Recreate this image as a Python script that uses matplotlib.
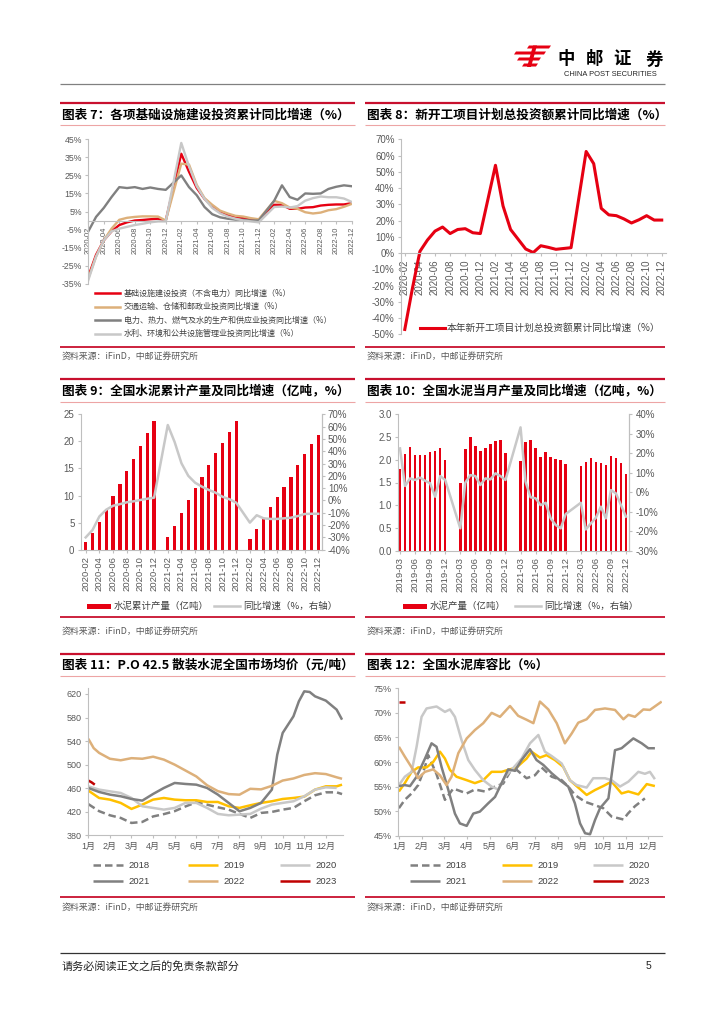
import matplotlib
matplotlib.use('Agg')
import matplotlib.pyplot as plt
from matplotlib.lines import Line2D
from matplotlib.patches import Polygon, Rectangle

W, H = 724, 1024
CJK = ['Noto Sans CJK SC', 'DejaVu Sans']
NUM = ['Liberation Sans', 'Noto Sans CJK SC', 'DejaVu Sans']
plt.rcParams['font.family'] = NUM
plt.rcParams['axes.unicode_minus'] = False

RED = '#E60012'
DARK_RED = '#C00000'
TAN = '#DDB07A'
GOLD = '#FFC000'
LGRAY = '#C8C8C8'
DGRAY = '#808080'
AXC = '#BFBFBF'
TXT = '#595959'

# ---------------- 图表7: 基建投资累计同比 (%), 2020-02 .. 2022-12, 1月无数据
m7 = [f'{y}-{m:02d}' for y in (2020, 2021, 2022) for m in range(1, 13)][1:]
s7_infra = [-31, -19, -11, -6, -2.5, -1, 0, 0.3, 0.7, 1, 0, None,
            37, 27, 18, 12, 8, 5, 3, 2, 1.3, 0.6, 0.2, None,
            8.7, 8.7, 6.5, 6.5, 7.2, 7.4, 8.3, 8.7, 8.9, 8.9, 9.6]
s7_transport = [-32, -20, -11, -4.5, 0.4, 1.5, 2, 2.3, 2.3, 2.2, 0, None,
                31.5, 31, 19.7, 12.4, 8.7, 5.5, 3.9, 2.6, 2.2, 1.3, 0.7, None,
                10.9, 9.6, 7.2, 6.5, 4.6, 3.9, 4.4, 5.7, 6.3, 7.6, 9.2]
s7_power = [-6, 2, 7, 13, 18.5, 18, 18.5, 17.5, 18.3, 17.5, 17, None,
            25, 18.5, 14, 7.5, 3.5, 1.8, 1, 0.5, 0.4, 0, 0, None,
            11, 19.5, 13, 11.5, 15, 14.8, 15, 17.5, 18.7, 19.5, 19]
s7_water = [-33, -20, -11, -6, -4.5, -3.5, -2.5, -1.8, -1, -0.5, -0.5, None,
            43, 30, 19, 12, 7, 4, 2.2, 1, 0, -0.5, -1, None,
            7.5, 7.7, 7.2, 8, 11, 12.4, 13.3, 12.9, 12.9, 12.2, 10.3]
leg7 = ['基础设施建设投资（不含电力）同比增速（%）',
        '交通运输、仓储和邮政业投资同比增速（%）',
        '电力、热力、燃气及水的生产和供应业投资同比增速（%）',
        '水利、环境和公共设施管理业投资同比增速（%）']

# ---------------- 图表8: 新开工项目计划总投资额累计同比 (%)
s8_new = [-47, -22, 1, 8, 13.5, 16, 12, 14.5, 15, 12.5, 12, None,
          54, 29, 14.5, 8.5, 2.5, 0.3, 4.5, 3.5, 2.3, 2.8, 3.3, None,
          62.5, 55, 27.5, 23.5, 23, 21, 18.5, 20.5, 23, 20.3, 20.3]

# ---------------- 图表9: 水泥累计产量 (亿吨) 及累计同比 (%)
s9_prod = [1.5, 3.0, 5.2, 7.6, 10.0, 12.2, 14.5, 16.8, 19.2, 21.6, 23.8, None,
           2.4, 4.4, 6.8, 9.2, 11.4, 13.5, 15.7, 17.8, 19.7, 21.7, 23.7, None,
           2.0, 3.9, 5.6, 7.8, 9.8, 11.6, 13.5, 15.6, 17.6, 19.5, 21.2]
s9_yoy = [-30, -24, -13, -7.5, -4.3, -3, -1.5, -0.7, 0.4, 1.4, 2.3, None,
          61.3, 47.5, 30.2, 20, 14.4, 11.2, 8.5, 6.3, 3, 1, -1.8, None,
          -18, -12, -14.5, -15, -15, -14.5, -14, -12.7, -11, -10.8, -10.8]

# ---------------- 图表10: 水泥当月产量 (亿吨) 及同比 (%), 2019-03 .. 2022-12
m10 = [f'{y}-{m:02d}' for y in (2019, 2020, 2021, 2022) for m in range(1, 13)][2:]
s10_prod = [1.80, 2.13, 2.27, 2.11, 2.11, 2.11, 2.18, 2.19, 2.26, 2.00, None, None,
            1.49, 2.24, 2.49, 2.30, 2.19, 2.26, 2.35, 2.41, 2.44, 2.14, None, None,
            1.97, 2.40, 2.44, 2.25, 2.06, 2.16, 2.05, 2.02, 2.00, 1.91, None, None,
            1.86, 1.95, 2.03, 1.96, 1.93, 1.89, 2.09, 2.04, 1.93, 1.69]
s10_yoy = [22.5, 3.2, 7.1, 6.3, 7.5, 5.9, 4.6, -2.3, 8.3, 6.3, None, None,
           -18.5, 4.9, 8.8, 8.3, 3.7, 7.1, 6.6, 9.7, 8.3, 6.3, None, None,
           33.3, 5.4, -2.6, -3.1, -6.6, -5.4, -13.4, -16.8, -18.5, -11.2, None, None,
           -5.4, -19.1, -16, -13.1, -7.4, -13.4, 1.1, -0.6, -6.6, -12.5]

# ---------------- 图表11: P.O 42.5 散装水泥全国均价 (元/吨), x = 月份位置 (0 = 1月)
month_labels = [f'{i}月' for i in range(1, 13)]
x11 = [0, 0.5, 1, 1.5, 2, 2.5, 3, 3.5, 4, 4.5, 5, 5.5, 6, 6.5, 7, 7.5, 8, 8.5,
       9, 9.5, 10, 10.5, 11, 11.5, 11.75]
p2018 = [433, 421, 414, 409.5, 401, 402.7, 412, 416, 421, 429, 436, 432, 427.6,
         423.6, 416.3, 409.5, 418, 419.7, 423.6, 426.5, 437.8, 448, 453, 453, 450]
p2019 = [456, 443.4, 440.6, 435, 424.8, 432.1, 440.6, 443.4, 440.6, 439.5, 439.5,
         436.6, 436.6, 429.3, 426.5, 431, 435, 437.8, 441.7, 443.4, 445.7, 457.6,
         463.2, 463.2, 466]
p2020 = [463.2, 457.6, 454.7, 451.9, 443.4, 429.3, 426.5, 423.6, 426.5, 435, 435,
         426.5, 416.3, 414, 415.1, 416.3, 425.3, 432.1, 435, 437.8, 446.3, 457.6,
         461.5, 460.4]
x2021 = [0, 0.5, 1, 1.5, 2, 2.5, 3, 3.5, 4, 4.5, 5, 5.5, 6, 6.5, 7, 7.5, 8, 8.5,
         8.75, 9, 9.5, 9.75, 10, 10.25, 10.5, 11, 11.5, 11.75]
p2021 = [460.4, 453.6, 449.1, 446.3, 441.7, 438.9, 450.2, 460.4, 468.9, 467.2, 466,
         460.4, 449.1, 435, 420.8, 426.5, 435, 457.6, 517, 553.8, 582.1, 607.5,
         624.5, 623.4, 616, 608.7, 593.4, 576.4]
x2022 = [0, 0.25, 0.5, 1, 1.5, 2, 2.5, 3, 3.5, 4, 4.5, 5, 5.5, 6, 6.5, 7, 7.5, 8,
         8.5, 9, 9.5, 10, 10.5, 11, 11.5, 11.75]
p2022 = [544, 528, 520, 510, 507.4, 511, 510, 513.5, 508.5, 500, 490, 480, 465,
         455, 450, 449, 459, 458, 464, 473, 476.5, 482.5, 485.5, 484, 478.5, 476]
x2023 = [0, 0.15, 0.3]
p2023 = [473, 470, 466]

# ---------------- 图表12: 全国水泥库容比 (%)
k2018_x = [0, 0.26, 0.56, 0.85, 1.15, 1.29, 1.66, 2.03, 2.4, 2.99, 3.35, 3.79, 4.24,
           4.6, 4.9, 5.19, 5.63, 6.0, 6.29, 6.74, 7.18, 7.47, 7.76, 8.21, 8.65,
           9.01, 9.38, 9.9, 10.1, 10.41, 10.85]
k2018 = [50.6, 52.3, 53.6, 55.3, 59, 61.4, 57.5, 52.3, 54.6, 53.6, 54.4, 54, 55,
         55.6, 58, 58.4, 56.7, 57.3, 58.9, 57, 56.3, 55, 53.3, 51.9, 51.2, 50.6,
         48.9, 48.3, 49.5, 51, 52.6]
k2019_x = [0, 0.26, 0.56, 0.85, 1.22, 1.51, 1.81, 2.03, 2.25, 2.54, 2.99, 3.35, 3.72,
           4.09, 4.53, 4.82, 5.19, 5.63, 5.85, 6.22, 6.51, 6.88, 7.25, 7.54, 7.91,
           8.28, 8.65, 9.01, 9.38, 9.82, 10.12, 10.56, 10.93, 11.29]
k2019 = [54, 55.7, 58, 58.9, 58.9, 60, 62.1, 60.7, 58.4, 57, 56.3, 55.7, 56.3, 58,
         58, 58.4, 58.9, 60.7, 62.1, 60.9, 61.4, 60.4, 59, 56.3, 54.8, 53.3, 54.3,
         55.1, 56, 53.6, 54, 53.4, 55.5, 55.1]
k2020_x = [0, 0.26, 0.56, 0.78, 1.0, 1.22, 1.66, 2.03, 2.25, 2.47, 2.76, 3.06, 3.35,
           3.72, 4.09, 4.38, 4.68, 4.97, 5.41, 5.78, 6.15, 6.44, 6.74, 7.18, 7.54,
           7.84, 8.28, 8.57, 9.09, 9.38, 9.75, 10.12, 10.56, 10.85, 11.07, 11.29]
k2020 = [55.3, 57, 58, 63.1, 69.2, 70.9, 71.3, 70.2, 70.7, 69.2, 64.5, 60.4, 58.4,
         56.3, 55, 54.4, 57, 58.4, 60.7, 63.8, 65.5, 62.1, 61.2, 59.7, 56.3, 55.3,
         54.8, 56.7, 56.7, 56.3, 55, 56, 58, 57.6, 58, 56.5]
k2021_x = [0, 0.26, 0.49, 0.78, 1.15, 1.44, 1.66, 1.88, 2.18, 2.47, 2.69, 2.99, 3.28,
           3.57, 3.94, 4.24, 4.53, 4.82, 5.12, 5.41, 5.78, 6.07, 6.37, 6.74, 7.1,
           7.47, 7.76, 7.99, 8.21, 8.43, 8.65, 8.87, 9.24, 9.53, 9.82, 10.34, 10.71,
           11.0, 11.29]
k2021 = [55.1, 55.3, 55.1, 57, 60.7, 63.8, 63.1, 59, 54.3, 49.5, 47.5, 47, 49.5,
         49.9, 51.6, 52.9, 55.7, 58.5, 58.2, 60.4, 62.6, 60.4, 59.4, 57.7, 56.3, 55,
         51.6, 47.5, 45.5, 45.3, 48.2, 50.6, 52.6, 62.4, 62.8, 64.8, 63.8, 62.8, 62.8]
k2022_x = [0, 0.26, 0.63, 0.85, 1.15, 1.51, 1.81, 2.1, 2.32, 2.62, 2.99, 3.35, 3.72,
           4.09, 4.46, 4.9, 5.26, 5.63, 5.93, 6.22, 6.59, 6.96, 7.32, 7.62, 7.91,
           8.28, 8.65, 9.09, 9.53, 9.9, 10.12, 10.41, 10.78, 11.07, 11.59]
k2022 = [63.1, 61.1, 58.4, 56.7, 58, 58.5, 57.3, 55.3, 57, 61.8, 64.8, 66.5, 67.9,
         70, 69.2, 71.4, 69.4, 68.6, 67.9, 72.3, 70.7, 67.9, 63.8, 65.8, 68, 68.7,
         70.6, 70.9, 70.6, 68.7, 69.6, 69.2, 70.7, 70.6, 72.3]
k2023_x = [0, 0.25]
k2023 = [72.2, 72.2]

years = ['2018', '2019', '2020', '2021', '2022', '2023']
year_colors = [DGRAY, GOLD, LGRAY, DGRAY, TAN, DARK_RED]
year_styles = ['--', '-', '-', '-', '-', '-']

SOURCE = '资料来源：iFinD，中邮证券研究所'

fig = plt.figure(figsize=(W / 100, H / 100), dpi=100)
fig.patch.set_facecolor('white')


def fx(x):
    return x / W


def fy(y):
    return 1 - y / H


def add_ax(x0, y0, x1, y1):
    return fig.add_axes([fx(x0), fy(y1), (x1 - x0) / W, (y1 - y0) / H])


def hline(x0, x1, y, color, lw, ls='-'):
    fig.add_artist(Line2D([fx(x0), fx(x1)], [fy(y), fy(y)], color=color, lw=lw,
                          ls=ls, transform=fig.transFigure, solid_capstyle='butt'))


def ftext(x, y, s, size, color='black', weight='normal', family=None, ha='left'):
    fig.text(fx(x), fy(y), s, fontsize=size, color=color, fontweight=weight,
             family=family or CJK, ha=ha, va='center')


def style(ax, spines=('left',)):
    for k, sp in ax.spines.items():
        sp.set_visible(k in spines)
        sp.set_color(AXC)
        sp.set_linewidth(0.8)
    ax.tick_params(colors=AXC, labelcolor=TXT, length=2.5, width=0.8, pad=2)
    ax.patch.set_alpha(0)


def pts(xs, ys):
    xy = [(x, y) for x, y in zip(xs, ys) if y is not None]
    return [p[0] for p in xy], [p[1] for p in xy]


# ---------------- page header
logo = [[(529, 45.5), (551, 45.5), (549, 48.5), (527, 48.5)],
        [(516, 51.5), (546, 51.5), (544, 54.5), (514, 54.5)],
        [(519, 57.5), (541, 57.5), (539, 60.5), (517, 60.5)],
        [(524, 63.5), (538, 63.5), (536, 66.5), (522, 66.5)],
        [(533, 45.5), (537, 45.5), (531, 67), (527, 67)]]
for poly in logo:
    fig.add_artist(Polygon([(fx(a), fy(b)) for a, b in poly], closed=True,
                           facecolor=RED, edgecolor='none', transform=fig.transFigure))
for ch, cx in zip('中邮证券', [566.5, 594.5, 622, 654]):
    ftext(cx, 59.5, ch, 12.5, weight='bold', ha='center')
ftext(610.5, 75, 'CHINA POST SECURITIES', 5.4, color='#222222', family=NUM, ha='center')
hline(60, 665, 83.5, '#808080', 0.9)

# ---------------- panel frames
rows = [(103, 115, 125, 347, 357), (379, 391, 401.5, 617, 632), (654, 665.5, 675.5, 897, 908)]
titles = [('图表 7：各项基础设施建设投资累计同比增速（%）', '图表 8：新开工项目计划总投资额累计同比增速（%）'),
          ('图表 9：全国水泥累计产量及同比增速（亿吨，%）', '图表 10：全国水泥当月产量及同比增速（亿吨，%）'),
          ('图表 11：P.O 42.5 散装水泥全国市场均价（元/吨）', '图表 12：全国水泥库容比（%）')]
for (top, ty, pink, bot, src), pair in zip(rows, titles):
    for (x0, x1), t in zip([(60, 355), (365, 665)], pair):
        hline(x0, x1, top, '#C8102E', 1.6)
        hline(x0, x1, pink, '#EDA5A5', 0.8)
        hline(x0, x1, bot, '#C8102E', 1.3)
        ftext(x0 + 2, ty, t, 9.1, weight='bold')
        ftext(x0 + 2, src, SOURCE, 6.4, color=TXT)

# footer
hline(60, 665, 953, '#333333', 0.9)
ftext(62, 966, '请务必阅读正文之后的免责条款部分', 8, color='#222222')
ftext(651, 966, '5', 7.5, color='#222222', family=NUM, ha='right')

# ---------------- 图表7
ax7 = add_ax(88.3, 139.3, 351.7, 283.7)
style(ax7, ('left', 'bottom'))
ax7.spines['bottom'].set_position(('data', 0))
i7 = range(len(m7))
c7 = [RED, TAN, DGRAY, LGRAY]
for vals, c in zip([s7_infra, s7_transport, s7_power, s7_water], c7):
    x, y = pts(i7, vals)
    ax7.plot(x, y, color=c, lw=1.7, solid_joinstyle='round')
ax7.set_xlim(0, 34)
ax7.set_ylim(-35, 45)
ax7.set_yticks(range(-35, 46, 10))
ax7.set_yticklabels([f'{v}%' for v in range(-35, 46, 10)], fontsize=6.3)
ax7.set_xticks(range(0, len(m7), 2))
ax7.set_xticklabels(m7[::2], rotation=90, fontsize=5.4)
for k, (lab, c) in enumerate(zip(leg7, c7)):
    yy = 293.3 + k * 13.4
    fig.add_artist(Line2D([fx(95), fx(120)], [fy(yy), fy(yy)], color=c, lw=1.8,
                          transform=fig.transFigure))
    ftext(124, yy, lab, 5.8, color='#404040')

# ---------------- 图表8
ax8 = add_ax(401, 139.3, 665.5, 334.3)
style(ax8, ('left', 'bottom'))
ax8.spines['bottom'].set_position(('data', 0))
x, y = pts(range(len(m7)), s8_new)
ax8.plot(x, y, color=RED, lw=2.2, solid_joinstyle='round')
ax8.set_xlim(-0.5, 34.5)
ax8.set_ylim(-50, 70)
ax8.set_yticks(range(-50, 71, 10))
ax8.set_yticklabels([f'{v}%' for v in range(-50, 71, 10)], fontsize=7)
ax8.set_xticks(range(0, len(m7), 2))
ax8.set_xticklabels(m7[::2], rotation=90, fontsize=7)
fig.add_artist(Line2D([fx(420), fx(445)], [fy(328), fy(328)], color=RED, lw=2.2,
                      transform=fig.transFigure))
ftext(447, 328, '本年新开工项目计划总投资额累计同比增速（%）', 7, color='#404040')


# ---------------- 图表9 / 图表10 (bars + yoy line on right axis)
def bar_line(box, cats, bars, yoy, xlim, ylim, rlim, lticks, lfmt, rticks, step, bw):
    ax = add_ax(*box)
    style(ax, ('left', 'right', 'bottom'))
    bx, by = pts(range(len(cats)), bars)
    ax.bar(bx, by, width=bw, color=RED, edgecolor='none')
    ax.set_xlim(*xlim)
    ax.set_ylim(*ylim)
    ax.set_yticks(lticks)
    ax.set_yticklabels([lfmt.format(v) for v in lticks], fontsize=7)
    ax.set_xticks(range(0, len(cats), step))
    ax.set_xticklabels(cats[::step], rotation=90, fontsize=6.8)
    axr = ax.twinx()
    style(axr, ('right',))
    lx, ly = pts(range(len(cats)), yoy)
    axr.plot(lx, ly, color=LGRAY, lw=1.8, solid_joinstyle='round')
    axr.set_ylim(*rlim)
    axr.set_yticks(rticks)
    axr.set_yticklabels([f'{v}%' for v in rticks], fontsize=7)
    axr.set_xlim(*xlim)
    return ax


bar_line((80.7, 414.3, 321.7, 549.7), m7, s9_prod, s9_yoy, (-0.73, 34.5), (0, 25),
         (-40, 70), list(range(0, 26, 5)), '{}', list(range(-40, 71, 10)), 2, 0.48)
bar_line((398.3, 414.3, 629.3, 550.7), m10, s10_prod, s10_yoy, (-0.34, 45.66), (0, 3),
         (-30, 40), [0, 0.5, 1, 1.5, 2, 2.5, 3], '{:.1f}', list(range(-30, 41, 10)), 3, 0.5)

for x0, lab1, x1, lab2 in [(87, '水泥累计产量（亿吨）', 214, '同比增速（%，右轴）'),
                           (403, '水泥产量（亿吨）', 515, '同比增速（%，右轴）')]:
    fig.add_artist(Rectangle((fx(x0), fy(608.5)), 24 / W, 5 / H, facecolor=RED,
                             edgecolor='none', transform=fig.transFigure))
    ftext(x0 + 27, 606, lab1, 6.8, color='#404040')
    fig.add_artist(Line2D([fx(x1), fx(x1 + 26)], [fy(606), fy(606)], color=LGRAY, lw=1.8,
                          transform=fig.transFigure))
    ftext(x1 + 29, 606, lab2, 6.8, color='#404040')


# ---------------- 图表11 / 图表12 (seasonal lines)
def seasonal(box, series, xlim, ylim, ticks, fmt):
    ax = add_ax(*box)
    style(ax, ('left', 'bottom'))
    for (xs, ys), c, ls in zip(series, year_colors, year_styles):
        ax.plot(xs, ys, color=c, lw=1.8, ls=ls, dashes=(3, 1.6) if ls == '--' else (None, None),
                solid_joinstyle='round', solid_capstyle='butt')
    ax.set_xlim(*xlim)
    ax.set_ylim(*ylim)
    ax.set_yticks(ticks)
    ax.set_yticklabels([fmt.format(v) for v in ticks], fontsize=6.5)
    ax.set_xticks(range(12))
    ax.set_xticklabels(month_labels, fontsize=6.5)
    return ax


seasonal((88.3, 688.1, 342.7, 835.3),
         [(x11, p2018), (x11, p2019), (x11[:len(p2020)], p2020), (x2021, p2021),
          (x2022, p2022), (x2023, p2023)],
         (0, 11.78), (380, 630), list(range(380, 621, 40)), '{}')
seasonal((398, 688.3, 661.7, 835.7),
         [(k2018_x, k2018), (k2019_x, k2019), (k2020_x, k2020), (k2021_x, k2021),
          (k2022_x, k2022), (k2023_x, k2023)],
         (-0.04, 11.59), (45, 75), list(range(45, 76, 5)), '{}%')

for cols in ([93, 188, 280], [410, 502, 593]):
    for k, (yr, c, ls) in enumerate(zip(years, year_colors, year_styles)):
        x0 = cols[k % 3]
        yy = 865 if k < 3 else 881
        ln = Line2D([fx(x0), fx(x0 + 30)], [fy(yy), fy(yy)], color=c, lw=1.8,
                    transform=fig.transFigure, solid_capstyle='butt')
        if ls == '--':
            ln.set_dashes((3, 1.6))
        fig.add_artist(ln)
        ftext(x0 + 35, yy, yr, 6.8, color='#404040', family=NUM)

fig.savefig('out.png', dpi=100)
